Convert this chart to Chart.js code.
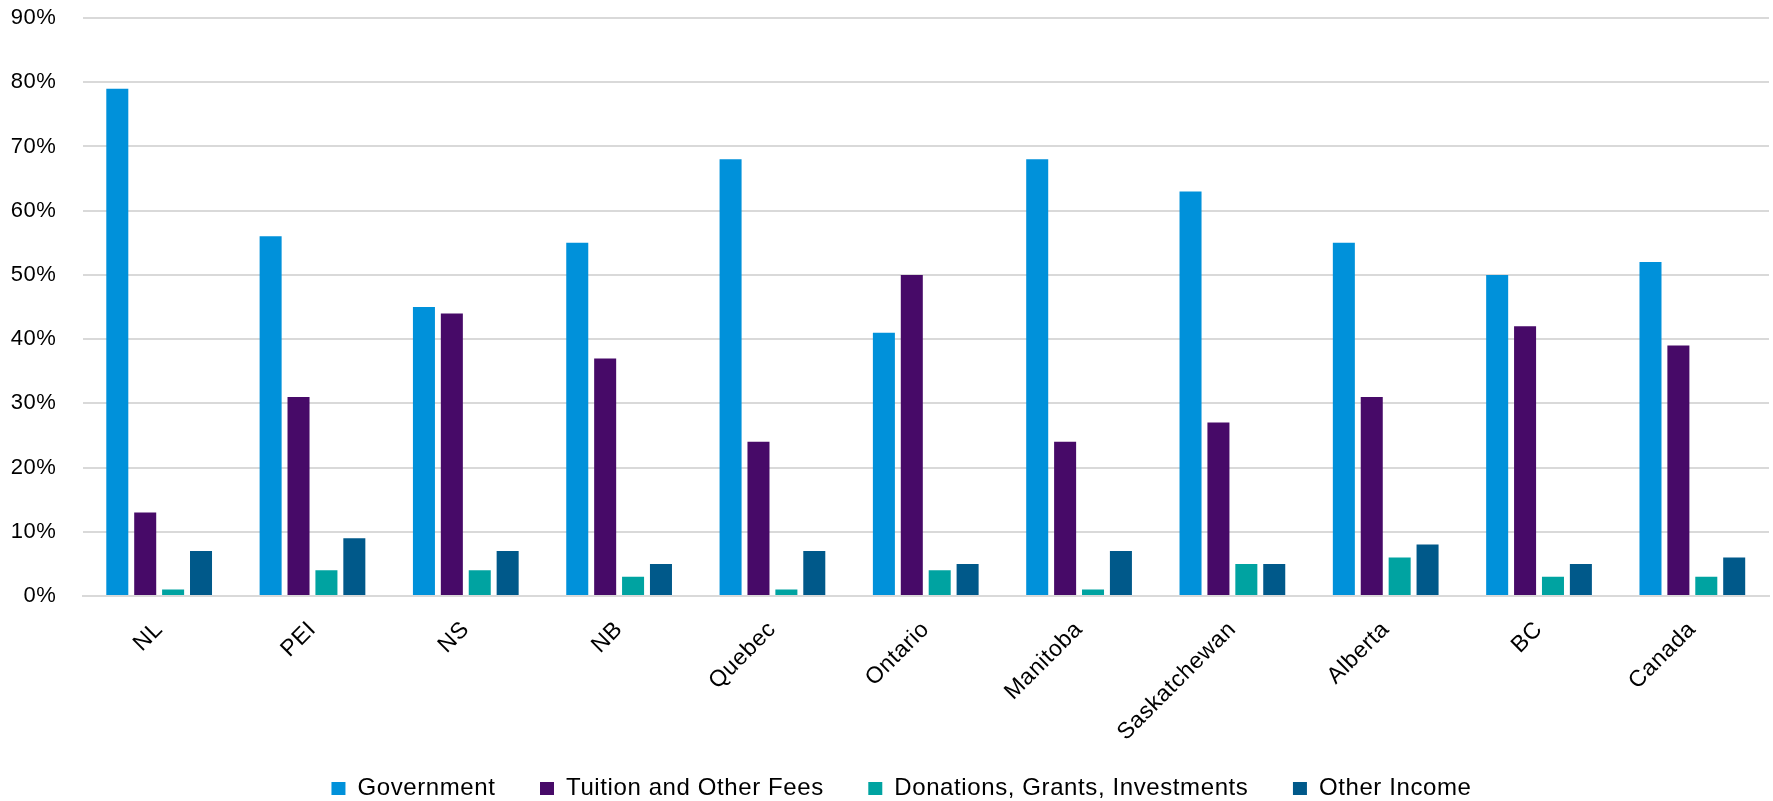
<!DOCTYPE html>
<html>
<head>
<meta charset="utf-8">
<script src="https://cdn.jsdelivr.net/npm/chart.js@4.4.1/dist/chart.umd.min.js"></script>
<style>
  html, body { margin: 0; padding: 0; background: #ffffff; overflow: hidden; }
  #wrap { width: 1773px; height: 801px; position: relative; }
</style>
</head>
<body>
<div id="wrap"><canvas id="c"></canvas></div>
<script>
const categories = ['NL', 'PEI', 'NS', 'NB', 'Quebec', 'Ontario', 'Manitoba', 'Saskatchewan', 'Alberta', 'BC', 'Canada'];
const government  = [79, 56, 45, 55, 68, 41, 68, 63, 55, 50, 52];
const tuition     = [13, 31, 44, 37, 24, 50, 24, 27, 31, 42, 39];
const donations   = [1, 4, 4, 3, 1, 4, 1, 5, 6, 3, 3];
const otherIncome = [7, 9, 7, 5, 7, 5, 7, 5, 8, 5, 6];
const seriesNames = ['Government', 'Tuition and Other Fees', 'Donations, Grants, Investments', 'Other Income'];
const yTickLabels = ['0%', '10%', '20%', '30%', '40%', '50%', '60%', '70%', '80%', '90%'];

const colors = ['#0091DA', '#470A68', '#00A3A1', '#00598A'];
const FONT = "'Liberation Sans', Arial, sans-serif";
const SPACING = '0.6px';

// Text spacing + legend box height / offset tweaks
const tweakPlugin = {
  id: 'tweaks',
  beforeUpdate(chart) {
    chart.ctx.letterSpacing = SPACING;
    const lg = chart.legend;
    if (lg && !lg._wrappedFit) {
      const origFit = lg.fit.bind(lg);
      lg.fit = function () { origFit(); this.height = 60; };
      lg._wrappedFit = true;
    }
  },
  beforeLayout(chart) { chart.ctx.letterSpacing = SPACING; },
  afterLayout(chart) {
    if (chart.legend) { chart.legend.left += 34; chart.legend.top -= 9; }
  },
  beforeDraw(chart) { chart.ctx.letterSpacing = SPACING; }
};

const seriesData = [government, tuition, donations, otherIncome];

new Chart(document.getElementById('c'), {
  type: 'bar',
  data: {
    labels: categories,
    datasets: seriesData.map((d, i) => ({
      label: seriesNames[i],
      data: d,
      backgroundColor: colors[i],
      borderWidth: 0,
      categoryPercentage: 0.728,
      barPercentage: 0.789
    }))
  },
  options: {
    responsive: true,
    maintainAspectRatio: false,
    animation: false,
    layout: { padding: { left: 0, right: 4, top: 18, bottom: 0 } },
    plugins: {
      tooltip: { enabled: false },
      legend: {
        position: 'bottom',
        labels: {
          font: { family: FONT, size: 24 },
          color: '#000',
          boxWidth: 14,
          boxHeight: 13,
          padding: 44.5
        }
      }
    },
    scales: {
      x: {
        grid: { display: false, drawTicks: false },
        border: { display: true, color: '#d9d9d9', width: 2 },
        ticks: {
          font: { family: FONT, size: 23 },
          color: '#000',
          minRotation: 45,
          maxRotation: 45,
          autoSkip: false,
          padding: 20
        },
        afterFit(scale) { scale.height = 145; }
      },
      y: {
        min: 0,
        max: 90,
        grid: { color: '#d9d9d9', lineWidth: 2, drawTicks: false },
        border: { display: false },
        ticks: {
          stepSize: 10,
          font: { family: FONT, size: 22 },
          color: '#000',
          padding: 26,
          callback: (v, i) => yTickLabels[i]
        },
        afterFit(scale) {
          scale.width = 82.5;
          scale.paddingTop = 12;
          scale.paddingBottom = 12;
        }
      }
    }
  },
  plugins: [tweakPlugin]
});
</script>
</body>
</html>
